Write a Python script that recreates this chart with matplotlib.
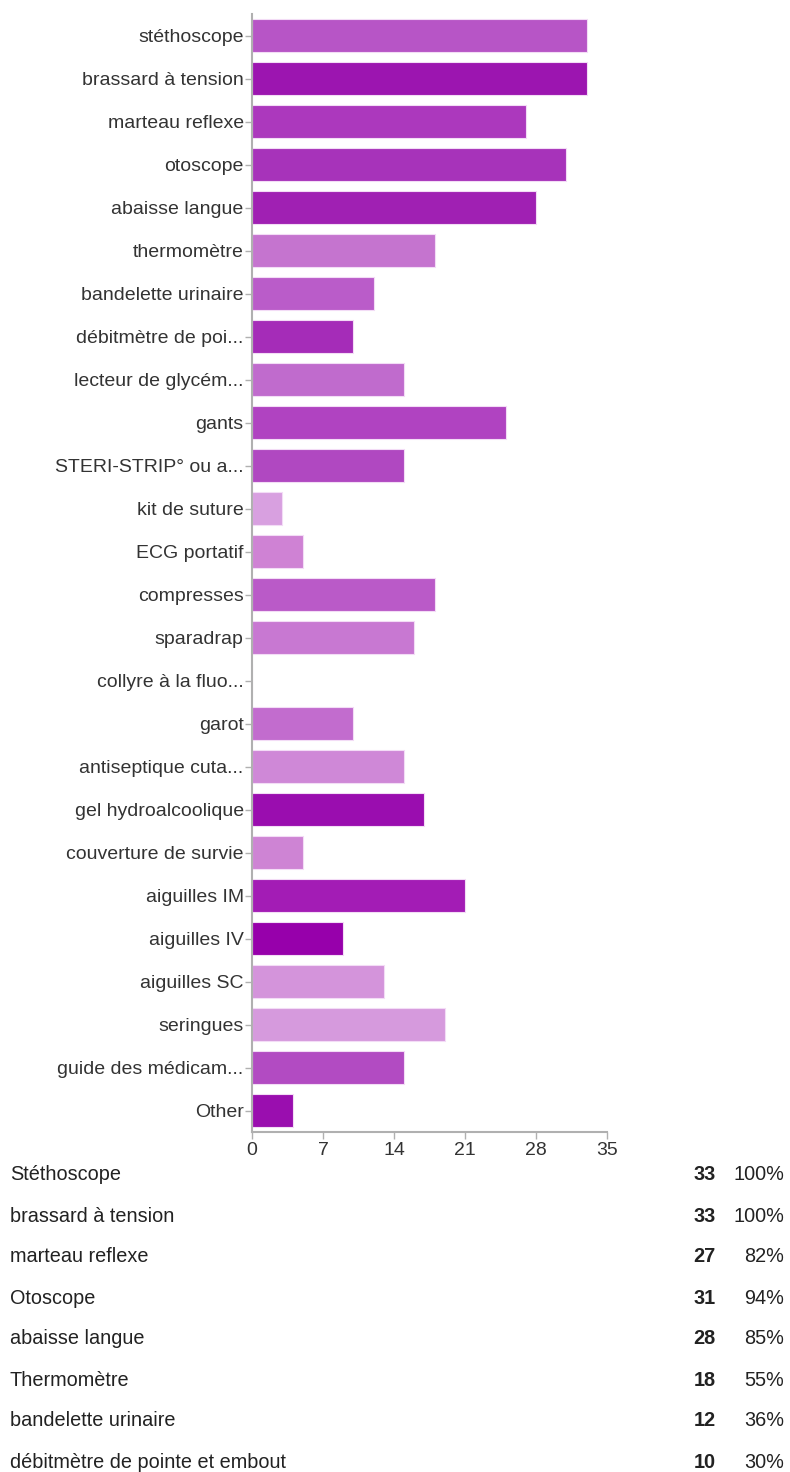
import matplotlib
import matplotlib.pyplot as plt
import numpy as np

matplotlib.use('agg')

labels = ['stéthoscope', 'brassard à tension', 'marteau reflexe', 'otoscope',
          'abaisse langue', 'thermomètre', 'bandelette urinaire',
          'débitmètre de poi...', 'lecteur de glycém...', 'gants',
          'STERI-STRIP° ou a...', 'kit de suture', 'ECG portatif', 'compresses',
          'sparadrap', 'collyre à la fluo...', 'garot', 'antiseptique cuta...',
          'gel hydroalcoolique', 'couverture de survie', 'aiguilles IM',
          'aiguilles IV', 'aiguilles SC', 'seringues', 'guide des médicam...',
          'Other']
counts = [33, 33, 27, 31, 28, 18, 12, 10, 15, 25, 15, 3, 5, 18, 16, 0, 10, 15,
          17, 5, 21, 9, 13, 19, 15, 4]
colors = ['#b755c6', '#9c15b0', '#ac38bd', '#a733ba', '#a020b3', '#c574cf',
          '#ba5cc9', '#a52cb8', '#c06bcd', '#b043c1', '#b048c1', '#d8a0e0',
          '#cf82d4', '#ba5ac8', '#c878d2', '#cccccc', '#c26cce', '#cf88d7',
          '#9a0daf', '#ce84d4', '#a31cb5', '#9700ab', '#d494db', '#d69add',
          '#b24bc2', '#9a0eaf']

table_labels = ['Stéthoscope', 'brassard à tension', 'marteau reflexe', 'Otoscope',
                'abaisse langue', 'Thermomètre', 'bandelette urinaire',
                'débitmètre de pointe et embout']
table_counts = [33, 33, 27, 31, 28, 18, 12, 10]
table_pcts = ['100%', '100%', '82%', '94%', '85%', '55%', '36%', '30%']

W, H = 790, 1472
fig = plt.figure(figsize=(W / 100, H / 100), dpi=100)
ax = fig.add_axes([252 / W, 1 - 1132 / H, (607 - 252) / W, (1132 - 14) / H])

y = np.arange(len(labels))
ax.barh(y, counts, height=0.78, color=colors, edgecolor='#f3dcf6', linewidth=0.8)
ax.set_xlim(0, 35)
ax.set_ylim(len(labels) - 0.5, -0.5)
ax.set_yticks(y)
ax.set_yticklabels(labels)
ax.set_xticks([0, 7, 14, 21, 28, 35])

for s in ['top', 'right']:
    ax.spines[s].set_visible(False)
for s in ['left', 'bottom']:
    ax.spines[s].set_color('#b0b0b0')
    ax.spines[s].set_linewidth(1.5)
ax.tick_params(axis='both', colors='#b0b0b0', length=5, width=1,
               labelcolor='#333333', labelsize=14)
ax.tick_params(axis='y', pad=1)
ax.tick_params(axis='x', pad=2)
for t in ax.get_yticklabels() + ax.get_xticklabels():
    t.set_family(['Liberation Sans', 'DejaVu Sans'])

narrow = ['Liberation Sans Narrow', 'Liberation Sans', 'DejaVu Sans']
for i, (lab, c, p) in enumerate(zip(table_labels, table_counts, table_pcts)):
    yy = 1 - (1175 + 41 * i) / H
    fig.text(10 / W, yy, lab, fontsize=14.3, family=narrow, va='center', color='#222222')
    fig.text(716 / W, yy, str(c), fontsize=14.3, family=narrow, weight='bold',
             ha='right', va='center', color='#222222')
    fig.text(784 / W, yy, p, fontsize=14.3, family=narrow, ha='right', va='center',
             color='#222222')

plt.savefig('out.png', dpi=100)
